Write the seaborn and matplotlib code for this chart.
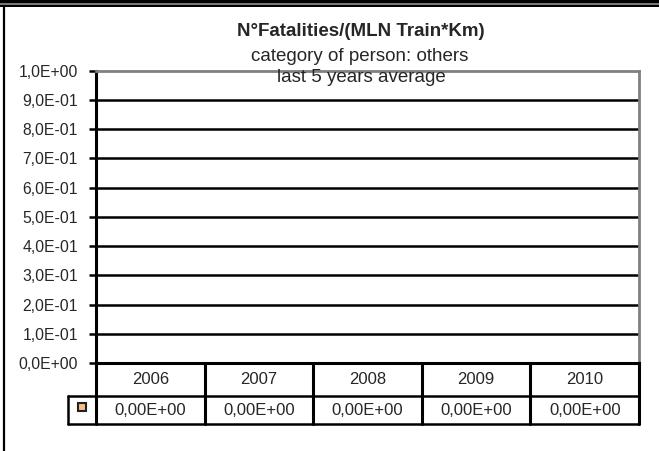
import numpy as np
import pandas as pd
import matplotlib
matplotlib.use("Agg")
import matplotlib.pyplot as plt
from matplotlib.patches import Rectangle
import seaborn as sns

# --- данные ---
years = ["2006", "2007", "2008", "2009", "2010"]
values = [0.0, 0.0, 0.0, 0.0, 0.0]
y_ticks = [0.0, 0.1, 0.2, 0.3, 0.4, 0.5, 0.6, 0.7, 0.8, 0.9, 1.0]
y_tick_labels = ["0,0E+00", "1,0E-01", "2,0E-01", "3,0E-01", "4,0E-01", "5,0E-01",
                 "6,0E-01", "7,0E-01", "8,0E-01", "9,0E-01", "1,0E+00"]
value_labels = ["0,00E+00", "0,00E+00", "0,00E+00", "0,00E+00", "0,00E+00"]
title_lines = ["N°Fatalities/(MLN Train*Km)", "category of person: others", "last 5 years average"]

sns.set_style("white")
plt.rcParams['font.family'] = ['Liberation Sans', 'DejaVu Sans']

W, H = 659, 451
fig = plt.figure(figsize=(W / 100, H / 100), dpi=100)


def box(x0, y0, x1, y1):
    # пиксели (сверху вниз) -> доли фигуры
    return [x0 / W, 1 - y1 / H, (x1 - x0) / W, (y1 - y0) / H]


# рамка диаграммы
fig.add_artist(Rectangle((0, 1 - 7 / H), 1, 7 / H, transform=fig.transFigure,
                         facecolor="black", edgecolor="none"))
fig.add_artist(Rectangle((0, 1 - 4.5 / H), 1, 1.2 / H, transform=fig.transFigure,
                         facecolor="#777777", edgecolor="none"))
fig.add_artist(plt.Line2D([3.5 / W, 3.5 / W], [0, 1 - 7 / H], transform=fig.transFigure,
                          color="black", lw=1.6))

# --- основной график ---
ax = fig.add_axes(box(96, 70.7, 639, 363))
df = pd.DataFrame({"year": years, "value": values})
sns.lineplot(data=df, x="year", y="value", ax=ax, color="black", lw=2, legend=False)

ax.set_xlim(-0.5, len(years) - 0.5)
ax.set_ylim(0, 1)
ax.set_yticks(y_ticks)
ax.set_yticklabels(y_tick_labels, fontsize=11.3)
ax.set_xticks([])
ax.set_xlabel("")
ax.set_ylabel("")
for t in y_ticks[1:-1]:
    ax.axhline(t, color="black", lw=1.8, zorder=1)
ax.tick_params(axis="y", length=5, width=1.8, color="black", pad=8, left=True)
ax.spines["left"].set_color("black")
ax.spines["left"].set_linewidth(2.2)
ax.spines["bottom"].set_color("black")
ax.spines["bottom"].set_linewidth(2.2)
for s in ["top", "right"]:
    ax.spines[s].set_color("#808080")
    ax.spines[s].set_linewidth(2)

# --- таблица данных ---
key_w = (96 - 67.5) / ((639 - 96) / len(years))
tax = fig.add_axes(box(67.5, 363, 639, 424))
tax.set_xlim(-0.5 - key_w, len(years) - 0.5)
tax.set_ylim(61, 0)
tax.axis("off")
n = len(years)
for i in range(n + 1):
    tax.plot([i - 0.5, i - 0.5], [0, 61], color="black", lw=2.2, clip_on=False)
tax.plot([-0.5 - key_w] * 2, [33, 61], color="black", lw=1.8, clip_on=False)
tax.plot([-0.5 - key_w, n - 0.5], [33, 33], color="black", lw=1.8, clip_on=False)
tax.plot([-0.5 - key_w, n - 0.5], [61, 61], color="black", lw=1.8, clip_on=False)
for i, (yr, lab) in enumerate(zip(years, value_labels)):
    tax.text(i, 17, yr, ha="center", va="center", fontsize=12)
    tax.text(i, 47.5, lab, ha="center", va="center", fontsize=12)
tax.plot([-0.5 - key_w / 2], [43.5], marker="s", ms=6, mfc="#F7BF8C", mec="#222222",
         mew=1.5, clip_on=False)

# --- заголовок ---
fig.text(361 / W, 1 - 31.7 / H, title_lines[0], ha="center", va="center",
         fontsize=13.5, fontweight="bold")
fig.text(360 / W, 1 - 56.7 / H, title_lines[1], ha="center", va="center", fontsize=13.5)
fig.text(361 / W, 1 - 78 / H, title_lines[2], ha="center", va="center", fontsize=13.5)

plt.savefig("out.png", dpi=100)
